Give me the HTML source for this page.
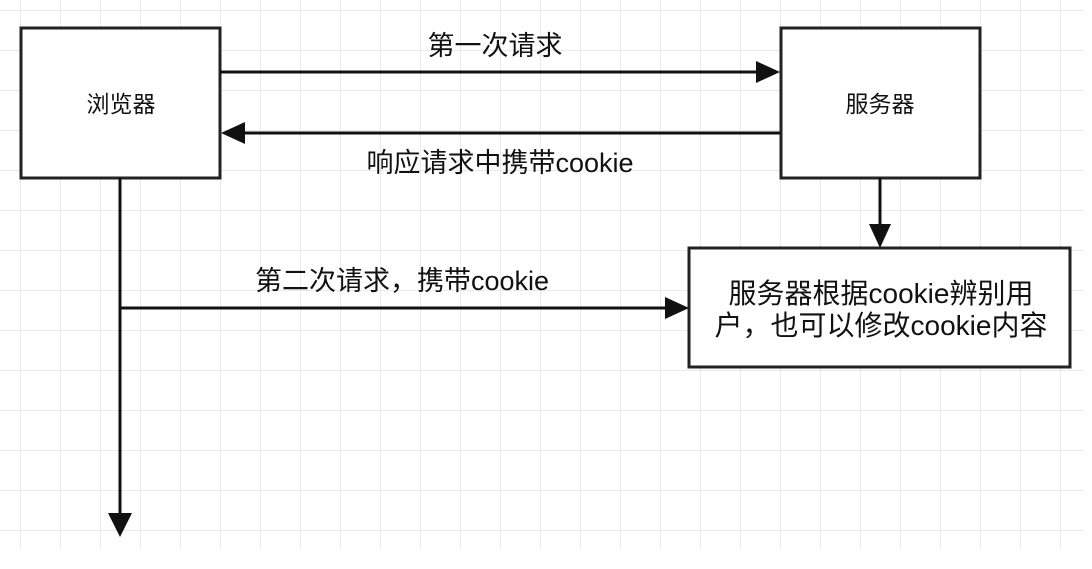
<!DOCTYPE html>
<html><head><meta charset="utf-8"><style>
body{margin:0;width:1092px;height:564px;background:#fff;overflow:hidden}
text{font-family:"Liberation Sans","Noto Sans CJK SC",sans-serif;fill:#111}
</style></head><body>
<svg width="1092" height="564" viewBox="0 0 1092 564">
<defs>
<pattern id="g" x="20" y="10" width="40" height="40" patternUnits="userSpaceOnUse">
<path d="M0 0H40M0 0V40" stroke="#e2e2e8" stroke-width="1.5" fill="none"/>
</pattern>
</defs>
<rect x="0" y="0" width="1084" height="548" fill="url(#g)"/>
<g stroke="#222" stroke-width="3" fill="#fff">
<rect x="21" y="28" width="199" height="150"/>
<rect x="781" y="28" width="199" height="150"/>
<rect x="689" y="248" width="381" height="119"/>
</g>
<g stroke="#111" stroke-width="3" fill="none">
<path d="M220 72H760"/>
<path d="M780 133H242"/>
<path d="M880 178V228"/>
<path d="M120 178V515"/>
<path d="M120 308H668"/>
</g>
<g fill="#111">
<path d="M780 72L756 61V83Z"/>
<path d="M221 133L245 122V144Z"/>
<path d="M880 248L869 224H891Z"/>
<path d="M120 537L108 513H132Z"/>
<path d="M689 308L665 297V319Z"/>
</g>
<text x="121" y="112" font-size="23" text-anchor="middle">浏览器</text>
<text x="880" y="112" font-size="23" text-anchor="middle">服务器</text>
<text x="495" y="55" font-size="27" text-anchor="middle">第一次请求</text>
<text x="500" y="172" font-size="27" text-anchor="middle">响应请求中携带cookie</text>
<text x="402" y="290" font-size="27" text-anchor="middle">第二次请求，携带cookie</text>
<text x="881" y="303" font-size="28" text-anchor="middle">服务器根据cookie辨别用</text>
<text x="881" y="335" font-size="28" text-anchor="middle">户，也可以修改cookie内容</text>
</svg>
</body></html>
